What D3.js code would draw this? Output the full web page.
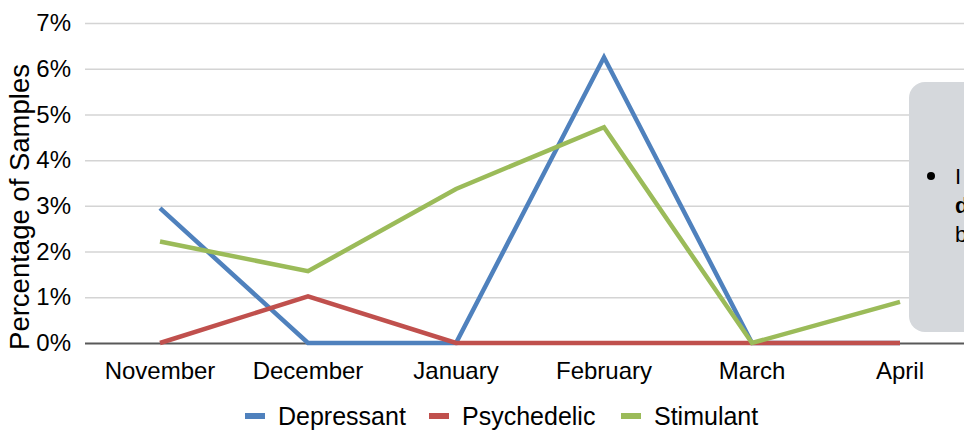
<!DOCTYPE html>
<html>
<head>
<meta charset="utf-8">
<script src="https://cdn.jsdelivr.net/npm/d3@7"></script>
<style>
  body { margin: 0; background: #fff; }
  svg { display: block; font-family: "Liberation Sans", Arial, sans-serif; }
</style>
</head>
<body>
<svg width="964" height="430"></svg>
<script>
const months = ["November", "December", "January", "February", "March", "April"];
const depressant = [0.0295, 0, 0, 0.0625, 0, 0];
const psychedelic = [0, 0.0102, 0, 0, 0, 0];
const stimulant = [0.0222, 0.0157, 0.0337, 0.0472, 0, 0.009];
const yTicks = [0, 0.01, 0.02, 0.03, 0.04, 0.05, 0.06, 0.07];
const noteLines = ["I", "d", "b"];

const series = [
  { name: "Depressant", values: depressant, color: "#4f81bd" },
  { name: "Psychedelic", values: psychedelic, color: "#c0504d" },
  { name: "Stimulant", values: stimulant, color: "#9bbb59" }
];

const svg = d3.select("svg");

const x = d3.scaleBand().domain(months).range([86, 974]).padding(0);
const y = d3.scaleLinear().domain([0, 0.07]).range([343, 23]);
const cx = d => x(d) + x.bandwidth() / 2;

// gridlines + y labels
const yAxis = d3.axisLeft(y)
  .tickValues(yTicks)
  .tickFormat(d3.format(".0%"))
  .tickSize(-900)
  .tickPadding(14);

const gy = svg.append("g")
  .attr("transform", "translate(85,0)")
  .call(yAxis);
gy.select(".domain").remove();
gy.selectAll(".tick line")
  .attr("stroke", d => (d === 0 ? "#595959" : "#d4d4d4"))
  .attr("stroke-width", d => (d === 0 ? 2 : 1.5));
gy.selectAll(".tick text")
  .attr("font-size", 24)
  .attr("fill", "#000")
  .attr("font-family", "Liberation Sans, Arial, sans-serif");

svg.append("text")
  .attr("transform", "translate(29,207) rotate(-90)")
  .attr("text-anchor", "middle")
  .attr("font-size", 27.5)
  .text("Percentage of Samples");

// category labels
const gx = svg.append("g")
  .attr("transform", "translate(0,343)")
  .call(d3.axisBottom(x).tickSize(0).tickPadding(19));
gx.select(".domain").remove();
gx.selectAll(".tick text")
  .attr("font-size", 24)
  .attr("fill", "#000")
  .attr("font-family", "Liberation Sans, Arial, sans-serif");

// lines
const line = d3.line()
  .x((d, i) => cx(months[i]))
  .y(d => y(d));

svg.selectAll("path.series")
  .data(series)
  .enter()
  .append("path")
  .attr("class", "series")
  .attr("d", d => line(d.values))
  .attr("fill", "none")
  .attr("stroke", d => d.color)
  .attr("stroke-width", 4.5)
  .attr("stroke-linejoin", "miter");

// callout box (runs off the right edge)
svg.append("rect")
  .attr("x", 909)
  .attr("y", 82)
  .attr("width", 120)
  .attr("height", 250)
  .attr("rx", 16)
  .attr("fill", "#d5d8dc");

svg.append("circle")
  .attr("cx", 931)
  .attr("cy", 176)
  .attr("r", 4)
  .attr("fill", "#000");

svg.selectAll("text.note")
  .data(noteLines)
  .enter()
  .append("text")
  .attr("class", "note")
  .attr("x", 955)
  .attr("y", (d, i) => 184 + i * 29)
  .attr("font-size", 22)
  .attr("font-weight", (d, i) => (i === 1 ? "bold" : "normal"))
  .text(d => d);

// legend
const legend = svg.append("g").attr("transform", "translate(0,416)");
const lx = [245, 429, 621];
const item = legend.selectAll("g")
  .data(series)
  .enter()
  .append("g")
  .attr("transform", (d, i) => `translate(${lx[i]},0)`);
item.append("rect")
  .attr("x", 0)
  .attr("y", -3)
  .attr("width", 20)
  .attr("height", 6)
  .attr("fill", d => d.color);
item.append("text")
  .attr("x", 33)
  .attr("y", 8.5)
  .attr("font-size", 25)
  .text(d => d.name);
</script>
</body>
</html>
